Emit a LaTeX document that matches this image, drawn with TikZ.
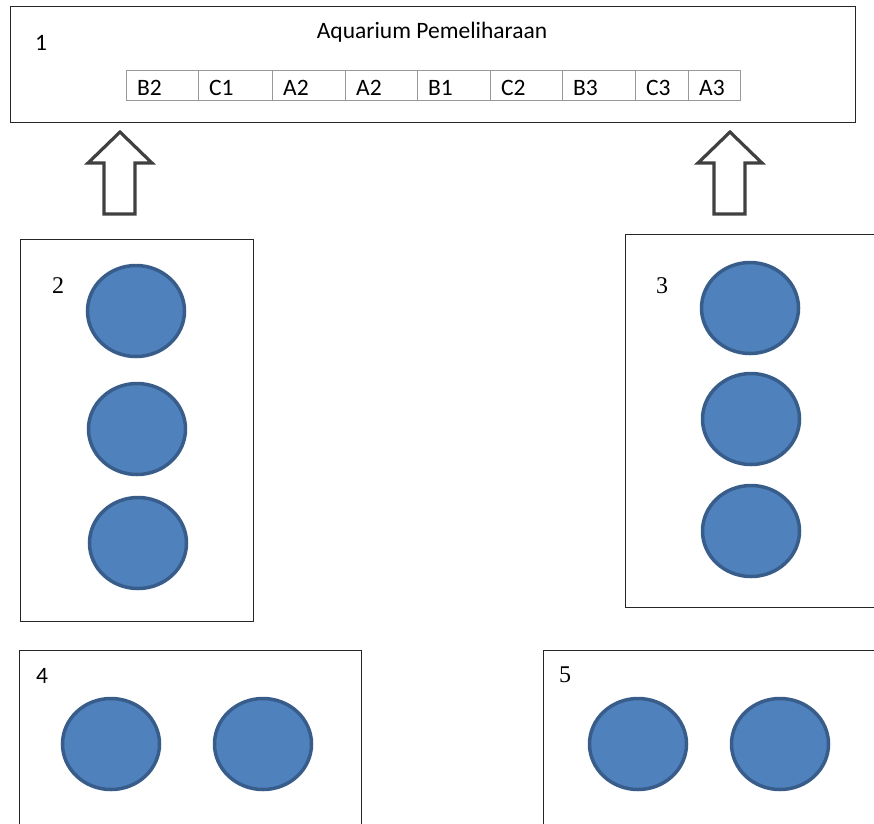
\documentclass[tikz,border=0pt]{standalone}
\usepackage{fontspec}
\setmainfont{Carlito}
\newfontfamily\timesf{Liberation Serif}
\usetikzlibrary{shapes.geometric}
\definecolor{fishfill}{HTML}{4F81BD}
\definecolor{fishline}{HTML}{385D8A}
\definecolor{arrowline}{HTML}{404040}
\tikzset{
  frame/.style={draw=black!85, line width=1pt, fill=none},
  cellbox/.style={draw=black!40, line width=1pt, anchor=north west, minimum height=30pt, inner sep=0pt},
  celltext/.style={anchor=base west, inner sep=0pt, font=\fontsize{23.5}{26}\selectfont},
  fish/.style={ellipse, draw=fishline, fill=fishfill, line width=3.5pt, minimum width=97pt, minimum height=91pt, inner sep=0pt},
  numC/.style={anchor=base, inner sep=0pt, font=\fontsize{23.5}{26}\selectfont},
  numT/.style={anchor=base, inner sep=0pt, font=\timesf\fontsize{24}{26}\selectfont},
  uparrow/.style={draw=arrowline, fill=white, line width=3.2pt, line join=miter}
}
\begin{document}
\begin{tikzpicture}[x=1pt,y=-1pt]
\useasboundingbox (0,0) rectangle (874,823);
% top aquarium box
\draw[frame] (10,6) rectangle (855,122);
\node[numC] (n1) at (41,50) {1};
\node[numC] (title) at (432,38) {Aquarium Pemeliharaan};
% cells
\foreach \name/\x/\w/\t in {c1/126/72/B2, c2/198/74/C1, c3/272/73/A2, c4/345/72/A2, c5/417/73/B1, c6/490/72/C2, c7/562/73/B3, c8/635/53/C3, c9/688/52/A3}{
  \node[cellbox, minimum width=\w pt] (\name) at (\x,70) {};
  \node[celltext] (\name t) at (\x+11,95) {\t};
}
% arrows
\draw[uparrow] (104,214) -- (104,163) -- (88,163) -- (120,132) -- (152,163) -- (135,163) -- (135,214) -- cycle;
\draw[uparrow] (714,214) -- (714,163) -- (698,163) -- (730,132) -- (762,163) -- (745,163) -- (745,214) -- cycle;
% box 2
\draw[frame] (20,239) rectangle (253,621);
\node[numT] (n2) at (58,293) {2};
\node[fish] (f21) at (136,311) {};
\node[fish] (f22) at (137,429) {};
\node[fish] (f23) at (138,543) {};
% box 3
\draw[frame] (625,234) rectangle (890,607);
\node[numT] (n3) at (662,293) {3};
\node[fish] (f31) at (750,308) {};
\node[fish] (f32) at (751,419) {};
\node[fish] (f33) at (751,531) {};
% box 4
\draw[frame] (19,650) rectangle (361,840);
\node[numC] (n4) at (42,683) {4};
\node[fish] (f41) at (111,744) {};
\node[fish] (f42) at (263,744) {};
% box 5
\draw[frame] (543,650) rectangle (890,840);
\node[numT] (n5) at (565,682) {5};
\node[fish] (f51) at (638,744) {};
\node[fish] (f52) at (780,744) {};
\end{tikzpicture}
\end{document}
